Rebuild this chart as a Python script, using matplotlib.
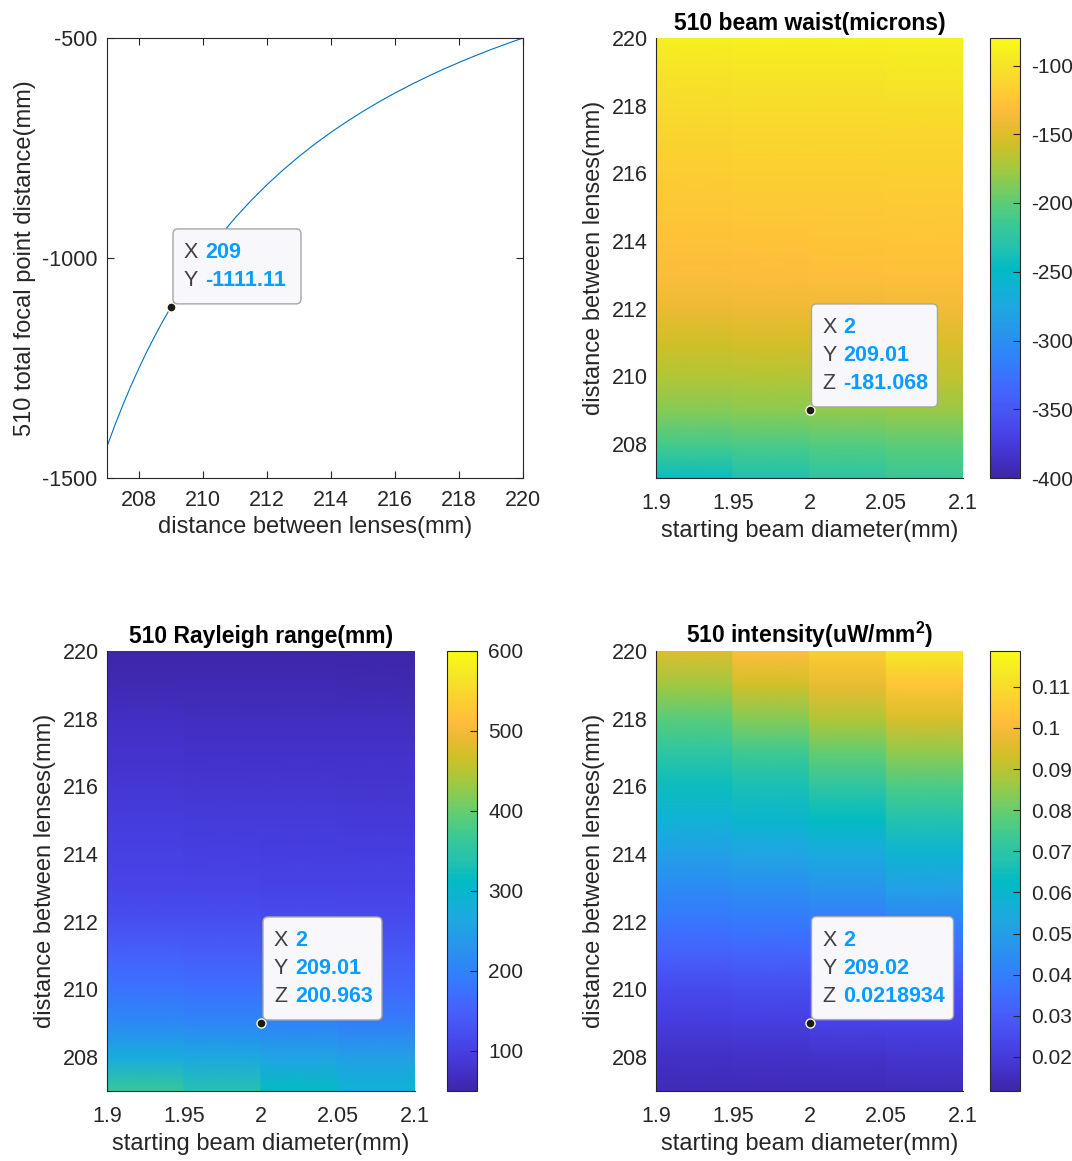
import numpy as np
import matplotlib
matplotlib.use("Agg")
import matplotlib.pyplot as plt
from matplotlib.colors import LinearSegmentedColormap
from matplotlib.patches import FancyBboxPatch
from matplotlib.transforms import ScaledTranslation

plt.rcParams['font.family'] = ['Liberation Sans', 'DejaVu Sans']
plt.rcParams['axes.unicode_minus'] = False
plt.rcParams['mathtext.fontset'] = 'custom'
plt.rcParams['mathtext.rm'] = 'Liberation Sans'
plt.rcParams['mathtext.bf'] = 'Liberation Sans:bold'

# --- data ---
# focal point distance vs. lens spacing
lens_dist = [207, 207.25, 207.5, 207.75, 208, 208.25, 208.5, 208.75, 209, 209.5, 210, 210.5,
             211, 211.5, 212, 212.5, 213, 213.5, 214, 214.5, 215, 215.5, 216, 216.5,
             217, 217.5, 218, 218.5, 219, 219.5, 220]
focal_dist = [-1428.6, -1379.3, -1333.3, -1290.3, -1250.0, -1212.1, -1176.5, -1142.9,
              -1111.1, -1052.6, -1000.0, -952.4, -909.1, -869.6, -833.3, -800.0,
              -769.2, -740.7, -714.3, -689.7, -666.7, -645.2, -625.0, -606.1,
              -588.2, -571.4, -555.6, -540.5, -526.3, -512.8, -500.0]

# grid for the maps
beam_diam = [1.9, 1.95, 2.0, 2.05, 2.1]
spacing = [207, 208, 209, 210, 211, 212, 213, 214, 215, 216, 217, 218, 219, 220]

# beam waist (microns), one list per beam diameter column
waist_190 = [-243, -211, -186, -170, -157, -143, -133, -128, -123, -118, -113, -107, -99, -91]
waist_195 = [-235, -208, -183, -168, -155, -142, -132, -127, -122, -117, -112, -106, -98, -90]
waist_200 = [-226, -205, -181, -166, -154, -141, -131, -126, -122, -117, -112, -106, -98, -90]
waist_205 = [-218, -201, -178, -163, -152, -139, -130, -125, -121, -116, -111, -105, -97, -89]

# Rayleigh range (mm)
rayl_190 = [362, 273, 212, 177, 151, 125, 108, 100, 93, 85, 78, 70, 60, 51]
rayl_195 = [339, 265, 205, 173, 147, 124, 107, 99, 91, 84, 77, 69, 59, 50]
rayl_200 = [313, 258, 201, 169, 145, 122, 105, 97, 91, 84, 77, 69, 59, 50]
rayl_205 = [291, 248, 194, 163, 142, 118, 104, 96, 90, 82, 76, 68, 58, 49]

# intensity (uW/mm^2)
inten_190 = [0.0138, 0.0160, 0.0203, 0.0245, 0.0310, 0.0374, 0.0438, 0.0502, 0.0577, 0.0641, 0.0706, 0.0780, 0.0866, 0.0952]
inten_195 = [0.0138, 0.0165, 0.0208, 0.0256, 0.0320, 0.0385, 0.0449, 0.0524, 0.0599, 0.0663, 0.0738, 0.0834, 0.0930, 0.1016]
inten_200 = [0.0138, 0.0171, 0.0218, 0.0256, 0.0320, 0.0395, 0.0470, 0.0545, 0.0631, 0.0706, 0.0791, 0.0887, 0.0973, 0.1059]
inten_205 = [0.0144, 0.0176, 0.0224, 0.0267, 0.0342, 0.0417, 0.0513, 0.0588, 0.0673, 0.0759, 0.0845, 0.0941, 0.1037, 0.1134]

# parula-like colormap
parula_pts = [
    (0, (0.2422, 0.1504, 0.6603)), (3, (0.2647, 0.1978, 0.7952)), (6, (0.2783, 0.2559, 0.8991)),
    (9, (0.2810, 0.3228, 0.9579)), (12, (0.2699, 0.3892, 0.9906)), (15, (0.2206, 0.4603, 0.9973)),
    (18, (0.1786, 0.5289, 0.9682)), (21, (0.1540, 0.5902, 0.9218)), (24, (0.1248, 0.6459, 0.8883)),
    (27, (0.0689, 0.6948, 0.8394)), (30, (0.0067, 0.7312, 0.7660)), (33, (0.1408, 0.7584, 0.6842)),
    (36, (0.2161, 0.7843, 0.5923)), (39, (0.3406, 0.8008, 0.4789)), (42, (0.5044, 0.7993, 0.3480)),
    (45, (0.6720, 0.7793, 0.2227)), (48, (0.8203, 0.7498, 0.1535)), (51, (0.9393, 0.7288, 0.2100)),
    (53, (0.9956, 0.7434, 0.2371)), (54, (0.9970, 0.7659, 0.2199)), (57, (0.9786, 0.8386, 0.1766)),
    (60, (0.9597, 0.9135, 0.1423)), (63, (0.9769, 0.9839, 0.0805)),
]
parula = LinearSegmentedColormap.from_list('parula', [(i / 63, c) for i, c in parula_pts])

TXT = '#262626'
W, H = 1072, 1161
fig = plt.figure(figsize=(W / 100, H / 100), dpi=100)


def frac(l, t, r, b):
    return [l / W, 1 - b / H, (r - l) / W, (b - t) / H]


def datatip(ax, x, y, rows, box_w):
    ax.plot(x, y, 'o', ms=6.5, mfc='#1a1a1a', mec='#ffffd8', mew=1.0, zorder=8, clip_on=False)
    trans = fig.dpi_scale_trans + ScaledTranslation(x, y, ax.transData)
    n = len(rows)
    box_h = 0.26 + 0.28 * (n - 1) + 0.24 - 0.03
    box = FancyBboxPatch((0.02, 0.03), box_w, box_h,
                         boxstyle='round,pad=0,rounding_size=0.05', transform=trans,
                         fc='#f8f8fc', ec='#a6a6a6', lw=1.0, zorder=9, clip_on=False)
    ax.add_patch(box)
    for i, (lab, val) in enumerate(rows):
        yy = 0.26 + 0.28 * (n - 1 - i)
        ax.text(0.13, yy, lab, transform=trans, color='#404040', fontsize=15.5,
                va='center', zorder=10, clip_on=False)
        ax.text(0.34, yy, val, transform=trans, color='#0a9cff', fontsize=15.5,
                fontweight='bold', va='center', zorder=10, clip_on=False)


def style_axes(ax):
    for s in ax.spines.values():
        s.set_color(TXT)
        s.set_linewidth(0.8)
    ax.tick_params(colors=TXT, labelsize=15.5)


# --- top left: focal point distance ---
ax1 = fig.add_axes(frac(107, 38, 523, 478))
ax1.plot(lens_dist, focal_dist, color=(0, 0.447, 0.741), lw=0.8)
ax1.set_xlim(207, 220)
ax1.set_ylim(-1500, -500)
ax1.set_xticks(range(208, 221, 2))
ax1.set_yticks([-1500, -1000, -500])
style_axes(ax1)
ax1.tick_params(direction='in', top=True, right=True, length=5)
ax1.tick_params(axis='x', pad=8.5)
ax1.tick_params(axis='y', pad=7)
ax1.set_xlabel('distance between lenses(mm)', fontsize=17, color=TXT)
ax1.set_ylabel('510 total focal point distance(mm)', fontsize=17, color=TXT, labelpad=4)
datatip(ax1, 209, -1111.11, [('X', '209'), ('Y', '-1111.11')], 1.28)


def heatmap(rect, cbar_rect, cols, vmin, vmax, cticks, clabels, title, tip, box_w):
    ax = fig.add_axes(frac(*rect))
    xs = np.repeat(beam_diam, 2)[1:-1]
    C = np.repeat(np.array(cols).T, 2, axis=1)
    X, Y = np.meshgrid(xs, spacing)
    mesh = ax.pcolormesh(X, Y, C, shading='gouraud', cmap=parula, vmin=vmin, vmax=vmax)
    ax.set_xlim(1.9, 2.1)
    ax.set_ylim(207, 220)
    ax.set_xticks(beam_diam)
    ax.set_xticklabels(['1.9', '1.95', '2', '2.05', '2.1'])
    ax.set_yticks(range(208, 221, 2))
    style_axes(ax)
    ax.spines['top'].set_visible(False)
    ax.spines['right'].set_visible(False)
    ax.tick_params(length=0)
    ax.tick_params(axis='x', pad=11)
    ax.tick_params(axis='y', pad=6)
    ax.set_xlabel('starting beam diameter(mm)', fontsize=17, color=TXT)
    ax.set_ylabel('distance between lenses(mm)', fontsize=17, color=TXT, labelpad=5)
    ax.set_title(title, fontsize=16.5, fontweight='bold', color='black', pad=6)
    cax = fig.add_axes(frac(*cbar_rect))
    cb = fig.colorbar(mesh, cax=cax)
    cb.set_ticks(cticks)
    cb.set_ticklabels(clabels)
    cb.outline.set_edgecolor(TXT)
    cb.outline.set_linewidth(0.8)
    cax.tick_params(direction='in', length=5, colors=TXT, labelsize=15, pad=8)
    datatip(ax, tip[0], tip[1], tip[2], box_w)
    return ax


heatmap((656, 38, 963, 478), (990, 38, 1020, 478),
        [waist_190, waist_195, waist_200, waist_205], -400, -80,
        list(range(-400, -99, 50)), [str(v) for v in range(-400, -99, 50)],
        '510 beam waist(microns)',
        (2, 209.01, [('X', '2'), ('Y', '209.01'), ('Z', '-181.068')]), 1.26)

heatmap((107, 651, 415, 1091), (447, 651, 477, 1091),
        [rayl_190, rayl_195, rayl_200, rayl_205], 50, 600,
        list(range(100, 601, 100)), [str(v) for v in range(100, 601, 100)],
        '510 Rayleigh range(mm)',
        (2, 209.01, [('X', '2'), ('Y', '209.01'), ('Z', '200.963')]), 1.19)

int_ticks = [0.02, 0.03, 0.04, 0.05, 0.06, 0.07, 0.08, 0.09, 0.1, 0.11]
heatmap((656, 651, 963, 1091), (990, 651, 1020, 1091),
        [inten_190, inten_195, inten_200, inten_205], 0.0117, 0.1187,
        int_ticks, [f'{v:g}' for v in int_ticks],
        r'510 intensity(uW/mm$^{\mathbf{2}}$)',
        (2, 209.02, [('X', '2'), ('Y', '209.02'), ('Z', '0.0218934')]), 1.42)

fig.savefig('out.png', dpi=100, facecolor='white')
